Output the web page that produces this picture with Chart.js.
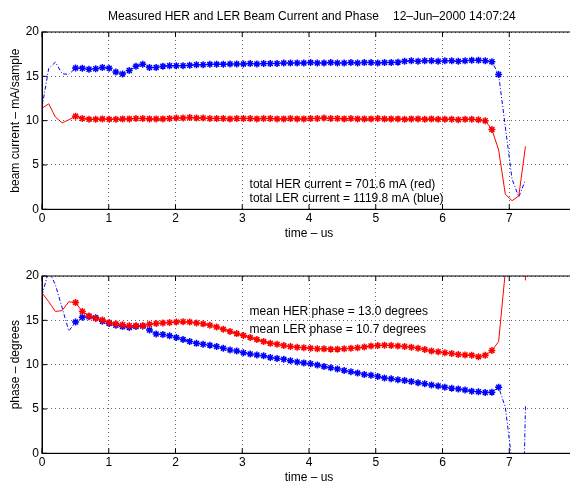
<!DOCTYPE html>
<html>
<head>
<meta charset="utf-8">
<script src="https://cdn.jsdelivr.net/npm/chart.js@4.4.1/dist/chart.umd.min.js"></script>
<style>
html,body{margin:0;padding:0;overflow:hidden;background:#fff;width:570px;height:483px;}
canvas{position:absolute;left:0;}
#c1{top:0;}
#c2{top:245px;}
</style>
</head>
<body>
<canvas id="c1" width="578" height="245"></canvas>
<canvas id="c2" width="578" height="245"></canvas>
<script>
// ---- data ----
const times = [0, 0.101, 0.201, 0.302, 0.402, 0.503, 0.604, 0.704, 0.805, 0.905,
  1.006, 1.107, 1.207, 1.308, 1.408, 1.509, 1.610, 1.710, 1.811, 1.911,
  2.012, 2.113, 2.213, 2.314, 2.414, 2.515, 2.616, 2.716, 2.817, 2.917,
  3.018, 3.119, 3.219, 3.320, 3.420, 3.521, 3.622, 3.722, 3.823, 3.923,
  4.024, 4.125, 4.225, 4.326, 4.426, 4.527, 4.628, 4.728, 4.829, 4.929,
  5.030, 5.131, 5.231, 5.332, 5.432, 5.533, 5.634, 5.734, 5.835, 5.935,
  6.036, 6.137, 6.237, 6.338, 6.438, 6.539, 6.640, 6.740, 6.841, 6.941,
  7.042, 7.143, 7.243];

const herCurrent = [11.4, 11.9, 10.4, 9.75, 10.1, 10.5, 10.25, 10.15, 10.15, 10.2,
  10.15, 10.15, 10.2, 10.2, 10.25, 10.25, 10.2, 10.2, 10.2, 10.25,
  10.3, 10.3, 10.35, 10.3, 10.3, 10.25, 10.25, 10.25, 10.2, 10.25,
  10.25, 10.25, 10.2, 10.25, 10.25, 10.2, 10.2, 10.25, 10.2, 10.2,
  10.25, 10.25, 10.3, 10.25, 10.25, 10.2, 10.25, 10.2, 10.2, 10.2,
  10.25, 10.2, 10.2, 10.2, 10.15, 10.2, 10.2, 10.15, 10.2, 10.15,
  10.15, 10.15, 10.1, 10.15, 10.15, 10.1, 10.0, 9.0, 6.7, 1.7,
  0.97, 1.5, 7.1];

const lerCurrent = [11.5, 15.9, 16.6, 15.3, 15.2, 15.95, 15.9, 15.8, 15.85, 16.0,
  15.9, 15.5, 15.27, 15.65, 16.14, 16.36, 16.0, 16.0, 16.15, 16.2,
  16.2, 16.2, 16.25, 16.3, 16.3, 16.35, 16.35, 16.35, 16.4, 16.4,
  16.4, 16.45, 16.4, 16.45, 16.45, 16.45, 16.5, 16.5, 16.5, 16.5,
  16.55, 16.5, 16.5, 16.55, 16.5, 16.5, 16.55, 16.5, 16.55, 16.55,
  16.5, 16.55, 16.55, 16.6, 16.7, 16.75, 16.7, 16.75, 16.75, 16.7,
  16.75, 16.75, 16.7, 16.75, 16.8, 16.8, 16.75, 16.65, 15.2, 9.3,
  3.4, 1.4, 3.3];

const herPhase = [18.1, 17.1, 16.0, 16.1, 17.1, 17.0, 16.0, 15.5, 15.2, 15.05,
  14.75, 14.6, 14.5, 14.4, 14.4, 14.4, 14.55, 14.65, 14.7, 14.75,
  14.8, 14.85, 14.8, 14.7, 14.6, 14.45, 14.25, 14.0, 13.75, 13.5,
  13.3, 13.05, 12.85, 12.6, 12.4, 12.3, 12.15, 12.05, 11.95, 11.9,
  11.85, 11.8, 11.78, 11.75, 11.75, 11.8, 11.85, 11.9, 12.0, 12.1,
  12.15, 12.18, 12.15, 12.1, 12.05, 11.95, 11.85, 11.7, 11.55, 11.45,
  11.35, 11.25, 11.15, 11.1, 11.05, 10.9, 11.05, 11.6, 12.6, 20.5,
  60, 80, 19.5];

const lerPhase = [17.8, 20.6, 19.0, 16.4, 13.8, 14.8, 15.35, 15.4, 15.3, 14.9,
  14.65, 14.45, 14.3, 14.2, 14.3, 14.35, 13.9, 13.45, 13.4, 13.25,
  13.05, 12.85, 12.6, 12.4, 12.3, 12.2, 12.05, 11.85, 11.65, 11.55,
  11.35, 11.2, 11.1, 11.0, 10.8, 10.7, 10.6, 10.45, 10.3, 10.2,
  10.1, 9.95, 9.8, 9.65, 9.5, 9.35, 9.2, 9.05, 8.9, 8.8,
  8.65, 8.5, 8.4, 8.3, 8.2, 8.1, 7.95, 7.85, 7.7, 7.6,
  7.45, 7.35, 7.25, 7.15, 7.0, 6.95, 6.85, 6.9, 7.45, 5.2,
  -1, -30, 5.3];

const xTicks = [0, 1, 2, 3, 4, 5, 6, 7, 8];
const yTicks = [0, 5, 10, 15, 20];

// sample index range that carries '*' markers
const herMarked = [5, 67];
const lerMarked = [5, 68];

// ---- styling ----
Chart.defaults.font.family = '"Liberation Sans", Arial, Helvetica, sans-serif';
Chart.defaults.font.size = 12;
Chart.defaults.color = '#000';

const FONT = {family: '"Liberation Sans", Arial, Helvetica, sans-serif', size: 12};
const RED = '#ff0000', BLUE = '#0000ff';

function series(vals) { return times.map((t, i) => ({x: t, y: vals[i]})); }

function ds(label, vals, color, range, dash) {
  return {
    label: label,
    data: series(vals),
    borderColor: color,
    backgroundColor: color,
    borderWidth: 1,
    borderDash: dash,
    tension: 0,
    fill: false,
    pointStyle: 'star',
    pointBorderColor: color,
    pointBackgroundColor: color,
    pointBorderWidth: 1.5,
    pointRadius: c => (c.dataIndex >= range[0] && c.dataIndex <= range[1]) ? 3.5 : 0,
    pointHoverRadius: 0
  };
}

function boxPlugin(texts) {
  return {
    id: 'boxAndText',
    afterDraw(chart) {
      const {ctx, chartArea: a, scales: {x, y}} = chart;
      ctx.save();
      ctx.setLineDash([]);
      ctx.strokeStyle = '#000';
      ctx.lineWidth = 1;
      ctx.strokeRect(a.left, a.top, a.right - a.left, a.bottom - a.top);
      ctx.beginPath();
      x.ticks.forEach(t => {
        const px = x.getPixelForValue(t.value);
        ctx.moveTo(px, a.bottom); ctx.lineTo(px, a.bottom - 5);
        ctx.moveTo(px, a.top); ctx.lineTo(px, a.top + 5);
      });
      y.ticks.forEach(t => {
        const py = y.getPixelForValue(t.value);
        ctx.moveTo(a.left, py); ctx.lineTo(a.left + 5, py);
        ctx.moveTo(a.right, py); ctx.lineTo(a.right - 5, py);
      });
      ctx.stroke();
      ctx.fillStyle = '#000';
      ctx.textBaseline = 'middle';
      ctx.textAlign = 'left';
      ctx.font = '12px "Liberation Sans", Arial, sans-serif';
      texts.forEach(tx => {
        const px = tx.px !== undefined ? tx.px : x.getPixelForValue(tx.x);
        const py = tx.py !== undefined ? tx.py : y.getPixelForValue(tx.y);
        ctx.fillText(tx.text, px, py);
      });
      ctx.restore();
    }
  };
}

function makeChart(id, datasets, yTitle, padTop, xHeight, xTitlePad, texts) {
  return new Chart(document.getElementById(id), {
    type: 'line',
    data: {datasets: datasets},
    options: {
      responsive: false,
      animation: false,
      events: [],
      layout: {padding: {top: padTop, left: 0, right: 1, bottom: 0}},
      plugins: {legend: {display: false}, tooltip: {enabled: false}, title: {display: false}},
      scales: {
        x: {
          type: 'linear', min: xTicks[0], max: xTicks[xTicks.length - 1],
          afterBuildTicks: s => { s.ticks = xTicks.map(v => ({value: v})); },
          ticks: {padding: 2, font: FONT, color: '#000', maxRotation: 0, autoSkip: false,
                  callback: v => (v === xTicks[xTicks.length - 1] ? '' : String(v))},
          grid: {color: '#666', lineWidth: 1, drawTicks: false},
          border: {display: true, color: '#000', width: 1, dash: [1, 3]},
          title: {display: true, text: 'time – us', font: FONT, color: '#000', padding: {top: 0, bottom: xTitlePad}},
          afterFit: s => { s.height = xHeight; }
        },
        y: {
          type: 'linear', min: yTicks[0], max: yTicks[yTicks.length - 1],
          afterBuildTicks: s => { s.ticks = yTicks.map(v => ({value: v})); },
          ticks: {padding: 3, font: FONT, color: '#000'},
          grid: {color: '#666', lineWidth: 1, drawTicks: false},
          border: {display: true, color: '#000', width: 1, dash: [1, 3]},
          title: {display: true, text: yTitle, font: FONT, color: '#000', padding: {top: 8.8, bottom: 0}},
          afterFit: s => { s.width = 42; }
        }
      }
    },
    plugins: [boxPlugin(texts)]
  });
}

makeChart('c1',
  [ds('HER', herCurrent, RED, herMarked, []), ds('LER', lerCurrent, BLUE, lerMarked, [4, 2, 1, 2])],
  'beam current – mA/sample', 32, 35.7, 4.3,
  [
    {text: 'Measured HER and LER Beam Current and Phase', px: 108, py: 17},
    {text: '12–Jun–2000 14:07:24', px: 393, py: 17},
    {text: 'total HER current = 701.6 mA (red)', x: 3.11, y: 2.8},
    {text: 'total LER current = 1119.8 mA (blue)', x: 3.11, y: 1.25}
  ]);

makeChart('c2',
  [ds('HER', herPhase, RED, herMarked, []), ds('LER', lerPhase, BLUE, lerMarked, [4, 2, 1, 2])],
  'phase – degrees', 31, 36.7, 5.3,
  [
    {text: 'mean HER phase = 13.0 degrees', x: 3.11, y: 15.97},
    {text: 'mean LER phase = 10.7 degrees', x: 3.11, y: 13.9}
  ]);
</script>
</body>
</html>
